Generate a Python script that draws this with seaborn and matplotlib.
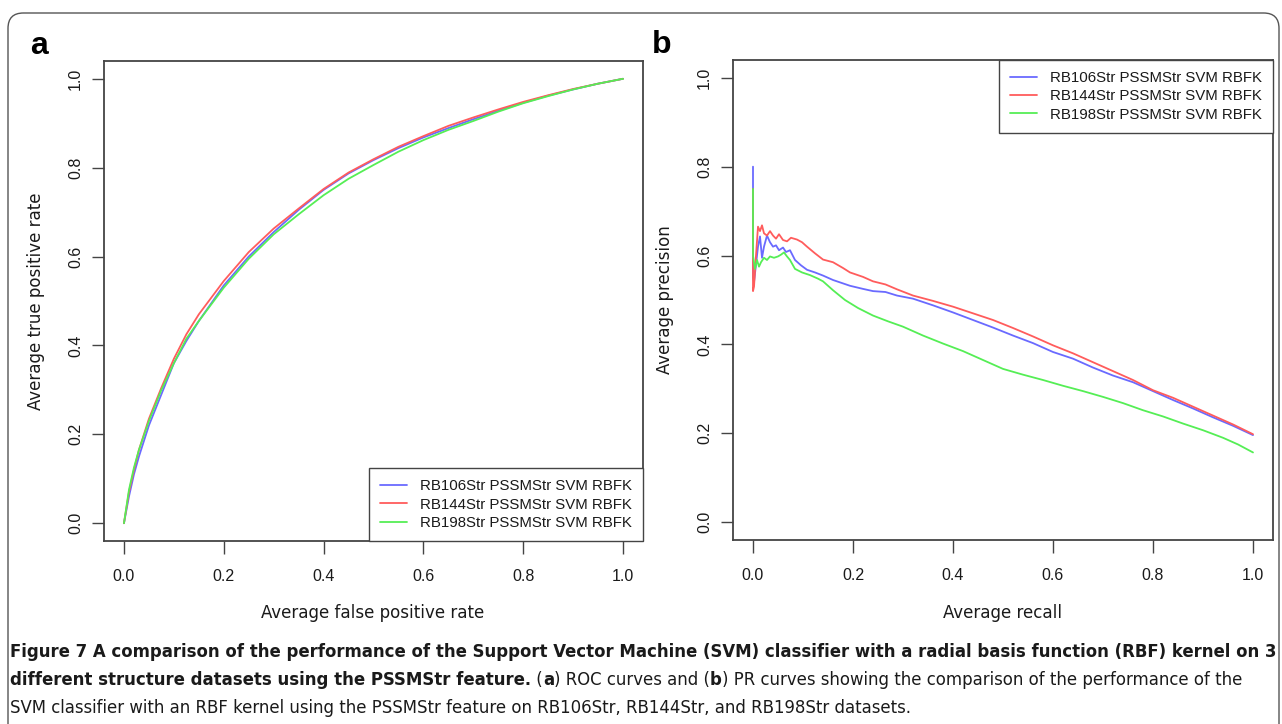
import numpy as np
import pandas as pd
import matplotlib
matplotlib.use("Agg")
import matplotlib.pyplot as plt
import seaborn as sns
from matplotlib.lines import Line2D
from matplotlib.patches import FancyBboxPatch
from matplotlib.transforms import IdentityTransform

# ---------------- data ----------------
series_names = ["RB106Str PSSMStr SVM RBFK",
                "RB144Str PSSMStr SVM RBFK",
                "RB198Str PSSMStr SVM RBFK"]
series_colors = ["#6a6aff", "#ff5c5c", "#55ee55"]

roc_fpr = [0, 0.01, 0.02, 0.03, 0.05, 0.075, 0.1, 0.125, 0.15, 0.2, 0.25, 0.3,
           0.35, 0.4, 0.45, 0.5, 0.55, 0.6, 0.65, 0.7, 0.75, 0.8, 0.85, 0.9, 0.95, 1.0]
roc_tpr_106 = [0, 0.06, 0.11, 0.15, 0.22, 0.29, 0.36, 0.41, 0.455, 0.535, 0.60, 0.655,
               0.705, 0.75, 0.787, 0.817, 0.844, 0.868, 0.889, 0.909, 0.928, 0.946,
               0.962, 0.976, 0.989, 1.0]
roc_tpr_144 = [0, 0.07, 0.12, 0.165, 0.235, 0.305, 0.37, 0.425, 0.47, 0.545, 0.61, 0.663,
               0.708, 0.752, 0.789, 0.819, 0.847, 0.871, 0.894, 0.913, 0.931, 0.948,
               0.963, 0.977, 0.989, 1.0]
roc_tpr_198 = [0, 0.075, 0.125, 0.165, 0.23, 0.30, 0.36, 0.415, 0.455, 0.53, 0.595, 0.65,
               0.695, 0.738, 0.775, 0.806, 0.836, 0.862, 0.885, 0.905, 0.926, 0.945,
               0.961, 0.976, 0.989, 1.0]

pr_recall_106 = [0, 0, 0.002, 0.006, 0.010, 0.014, 0.018, 0.022, 0.028, 0.034, 0.040,
                 0.046, 0.052, 0.060, 0.066, 0.074, 0.084, 0.096, 0.108, 0.124, 0.14,
                 0.16, 0.194, 0.22, 0.24, 0.265, 0.288, 0.32, 0.36, 0.40, 0.44, 0.48,
                 0.52, 0.56, 0.60, 0.64, 0.68, 0.72, 0.76, 0.80, 0.84, 0.88, 0.92, 0.96, 1.0]
pr_prec_106 = [0.80, 0.55, 0.54, 0.58, 0.62, 0.643, 0.595, 0.62, 0.645, 0.63, 0.62,
               0.623, 0.612, 0.618, 0.608, 0.612, 0.59, 0.578, 0.568, 0.562, 0.555,
               0.545, 0.532, 0.525, 0.52, 0.518, 0.51, 0.503, 0.488, 0.472, 0.455, 0.438,
               0.42, 0.403, 0.383, 0.368, 0.348, 0.33, 0.315, 0.295, 0.275, 0.256, 0.236,
               0.217, 0.196]

pr_recall_144 = [0, 0, 0.002, 0.006, 0.010, 0.014, 0.018, 0.022, 0.028, 0.034, 0.040,
                 0.046, 0.052, 0.060, 0.068, 0.076, 0.088, 0.098, 0.108, 0.124, 0.14,
                 0.16, 0.18, 0.194, 0.22, 0.24, 0.265, 0.288, 0.32, 0.36, 0.40, 0.44,
                 0.48, 0.52, 0.56, 0.60, 0.64, 0.68, 0.72, 0.76, 0.80, 0.84, 0.88, 0.92,
                 0.96, 1.0]
pr_prec_144 = [0.75, 0.52, 0.53, 0.60, 0.665, 0.655, 0.668, 0.65, 0.645, 0.655, 0.645,
               0.638, 0.648, 0.635, 0.632, 0.64, 0.636, 0.63, 0.62, 0.605, 0.591, 0.585,
               0.572, 0.562, 0.552, 0.542, 0.535, 0.524, 0.51, 0.498, 0.485, 0.47, 0.455,
               0.437, 0.418, 0.398, 0.38, 0.36, 0.34, 0.32, 0.297, 0.28, 0.26, 0.24,
               0.22, 0.198]

pr_recall_198 = [0, 0, 0.004, 0.008, 0.012, 0.016, 0.022, 0.028, 0.034, 0.042, 0.050,
                 0.056, 0.062, 0.068, 0.074, 0.084, 0.098, 0.114, 0.13, 0.14, 0.16,
                 0.184, 0.21, 0.24, 0.27, 0.30, 0.34, 0.38, 0.42, 0.46, 0.50, 0.54, 0.58,
                 0.62, 0.66, 0.70, 0.74, 0.78, 0.82, 0.86, 0.90, 0.94, 0.97, 1.0]
pr_prec_198 = [0.75, 0.60, 0.57, 0.59, 0.575, 0.585, 0.595, 0.59, 0.598, 0.595, 0.598,
               0.602, 0.607, 0.598, 0.59, 0.57, 0.562, 0.556, 0.548, 0.542, 0.522, 0.50,
               0.482, 0.465, 0.452, 0.44, 0.42, 0.402, 0.385, 0.365, 0.345, 0.332, 0.32,
               0.307, 0.295, 0.282, 0.268, 0.252, 0.238, 0.222, 0.207, 0.19, 0.175, 0.157]

tick_values = [0.0, 0.2, 0.4, 0.6, 0.8, 1.0]
tick_labels = ["0.0", "0.2", "0.4", "0.6", "0.8", "1.0"]

caption_lines = [
    [("Figure 7 A comparison of the performance of the Support Vector Machine (SVM) "
      "classifier with a radial basis function (RBF) kernel on 3", "bold")],
    [("different structure datasets using the PSSMStr feature.", "bold"), (" (", "normal"),
     ("a", "bold"), (") ROC curves and (", "normal"), ("b", "bold"),
     (") PR curves showing the comparison of the performance of the", "normal")],
    [("SVM classifier with an RBF kernel using the PSSMStr feature on RB106Str, "
      "RB144Str, and RB198Str datasets.", "normal")],
]

# ---------------- data frames ----------------
roc_df = pd.concat([
    pd.DataFrame({"x": roc_fpr, "y": t, "series": n})
    for n, t in zip(series_names, [roc_tpr_106, roc_tpr_144, roc_tpr_198])
], ignore_index=True)
pr_df = pd.concat([
    pd.DataFrame({"x": r, "y": p, "series": n})
    for n, r, p in zip(series_names,
                       [pr_recall_106, pr_recall_144, pr_recall_198],
                       [pr_prec_106, pr_prec_144, pr_prec_198])
], ignore_index=True)

# ---------------- style ----------------
sns.set_theme(style="ticks")
base_family = ["Liberation Sans", "DejaVu Sans"]
narrow_family = ["Liberation Sans Narrow", "DejaVu Sans"]
plt.rcParams["font.family"] = base_family
plt.rcParams["text.color"] = "#111111"

W, H = 1282, 724
fig = plt.figure(figsize=(W / 100, H / 100), dpi=100)
fig.patch.set_facecolor("white")

# frame around figure
frame = FancyBboxPatch((8 / W, -0.2), (1279 - 8) / W, 1.2 - 13 / H,
                       boxstyle="round,pad=0,rounding_size=0.012",
                       transform=fig.transFigure, fill=False,
                       edgecolor="#555555", linewidth=1.0, mutation_aspect=W / H)
fig.patches.append(frame)

def px_axes(l, t, r, b):
    return fig.add_axes([l / W, 1 - b / H, (r - l) / W, (b - t) / H])

ax_a = px_axes(104, 61, 643, 541)
ax_b = px_axes(733, 60, 1273, 540)

palette = dict(zip(series_names, series_colors))

for ax, df in [(ax_a, roc_df), (ax_b, pr_df)]:
    sns.lineplot(data=df, x="x", y="y", hue="series", palette=palette,
                 estimator=None, sort=False, linewidth=1.3, ax=ax, legend=False)
    ax.set_xlim(-0.04, 1.04)
    ax.set_ylim(-0.04, 1.04)
    ax.set_xticks(tick_values)
    ax.set_xticklabels(tick_labels)
    ax.set_yticks(tick_values)
    ax.set_yticklabels(tick_labels, rotation=90, va="center")
    ax.set_xlabel("")
    ax.set_ylabel("")
    for s in ax.spines.values():
        s.set_visible(True)
        s.set_color("#444444")
        s.set_linewidth(1.3)
    ax.tick_params(axis="both", length=9, width=1.0, color="#444444",
                   labelsize=11.5, labelcolor="#1a1a1a")
    ax.tick_params(axis="x", pad=11)
    ax.tick_params(axis="y", pad=6)
    ax.set_facecolor("white")

handles = [Line2D([0], [0], color=c, lw=1.3) for c in series_colors]
leg_kw = dict(frameon=True, fancybox=False, edgecolor="#444444", framealpha=1,
              borderaxespad=0, fontsize=10.8, handlelength=1.8, handletextpad=0.85,
              labelspacing=0.28, borderpad=0.75)
la = ax_a.legend(handles, series_names, loc="lower right", **leg_kw)
lb = ax_b.legend(handles, series_names, loc="upper right", **leg_kw)
for lg in (la, lb):
    lg.get_frame().set_linewidth(1.0)
    for t in lg.get_texts():
        t.set_color("#1a1a1a")

# panel letters
fig.text(30 / W, 1 - 46 / H, "a", fontsize=23, fontweight="bold", color="black",
         va="center", ha="left")
fig.text(652 / W, 1 - 45 / H, "b", fontsize=23, fontweight="bold", color="black",
         va="center", ha="left")

# axis labels
lab_kw = dict(fontsize=13.3, family=narrow_family, stretch="condensed", color="#1a1a1a",
              va="center", ha="center")
fig.text(373 / W, 1 - 613 / H, "Average false positive rate", **lab_kw)
fig.text(1003 / W, 1 - 613 / H, "Average recall", **lab_kw)
fig.text(36 / W, 1 - 301 / H, "Average true positive rate", rotation=90, **lab_kw)
fig.text(665 / W, 1 - 300 / H, "Average precision", rotation=90, **lab_kw)

# caption with mixed bold/regular pieces
renderer = fig.canvas.get_renderer()
cap_family = narrow_family

def text_width(s, size, weight):
    t = fig.text(0, 0, s, fontsize=size, fontweight=weight, family=cap_family,
                 stretch="condensed", transform=IdentityTransform())
    w = t.get_window_extent(renderer).width
    t.remove()
    return w

def piece_width(s, size, weight):
    # measure including leading/trailing spaces robustly
    return text_width("|" + s + "|", size, weight) - 2 * text_width("|", size, weight) \
        + (text_width("||", size, weight) - 2 * text_width("|", size, weight))

nominal = 13.0
w1 = sum(piece_width(s, nominal, w) for s, w in caption_lines[0])
cap_size = nominal * (1276 - 10) / w1

line_ys = [652, 680, 708]
for pieces, yy in zip(caption_lines, line_ys):
    x = 10
    for s, wgt in pieces:
        fig.text(x, H - yy, s, fontsize=cap_size, fontweight=wgt, family=cap_family,
                 stretch="condensed", color="#1a1a1a", va="center", ha="left",
                 transform=IdentityTransform())
        x += piece_width(s, cap_size, wgt)

fig.savefig("out.png", dpi=100)
